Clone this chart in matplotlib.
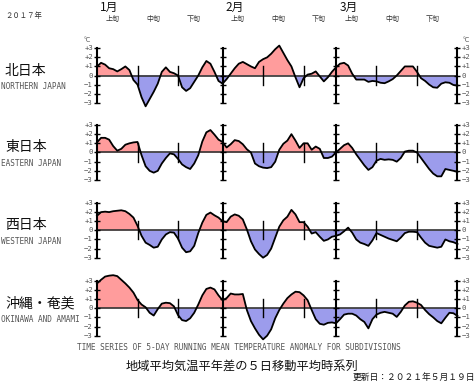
import numpy as np
import matplotlib
matplotlib.use("Agg")
import matplotlib.pyplot as plt

plt.rcParams['font.family'] = ['Noto Sans CJK JP', 'DejaVu Sans']

# 5-day running mean temperature anomaly, 2017-01-01 .. 2017-03-31 (degC)
north = [1.0, 1.4, 1.2, 0.8, 0.7, 0.45, 0.7, 1.0, 0.6, -0.5,
         -1.0, -2.4, -3.4, -2.6, -1.8, -0.9, 0.4, 0.9, 0.4, 0.25,
         0.0, -1.3, -1.7, -1.4, -0.7, 0.0, 0.9, 1.6, 1.3, 0.4,
         -0.6, -0.9, -0.4, 0.2, 0.8, 1.3, 1.5, 1.25, 1.0, 0.8,
         1.5, 1.8, 2.0, 2.4, 2.9, 3.3, 2.5, 1.7, 1.0, -0.2,
         -1.3, -0.3, 0.1, 0.2, 0.45, -0.1, -0.65, -0.2, 0.4, 0.9,
         1.3, 1.4, 1.1, 0.2, -0.45, -0.45, -0.45, -0.7, -0.6, -0.65,
         -0.8, -0.85, -0.65, -0.4, 0.0, 0.5, 1.0, 1.0, 1.0, 0.4,
         -0.3, -0.6, -1.0, -1.3, -1.35, -0.9, -0.75, -0.8, -1.05, -1.1]
east = [1.1, 1.6, 1.6, 1.4, 0.7, 0.2, 0.4, 0.85, 1.0, 1.1,
        1.15, -0.3, -1.5, -2.0, -2.2, -2.0, -1.2, -0.6, -0.1, -0.2,
        -0.7, -1.3, -1.6, -1.8, -1.2, -0.3, 1.2, 2.2, 2.45, 1.95,
        1.4, 1.15, 0.55, 0.9, 1.35, 1.25, 0.9, 0.35, 0.0, -1.2,
        -1.5, -1.65, -1.7, -1.6, -1.0, 0.3, 0.95, 1.3, 2.0, 1.3,
        0.5, 1.0, 1.0, 0.3, 0.65, 0.4, -0.6, -0.6, -0.45, 0.0,
        0.4, 0.8, 1.0, 0.5, -0.2, -0.8, -1.4, -1.9, -1.6, -0.9,
        -0.7, -0.8, -0.75, -0.8, -1.0, -0.6, 0.1, 0.2, 0.2, 0.0,
        -0.6, -1.2, -1.8, -2.3, -2.6, -2.6, -1.8, -1.9, -2.0, -2.1]
west = [1.6, 2.0, 2.05, 2.0, 2.1, 2.15, 2.2, 2.1, 1.8, 1.4,
        0.5, -0.6, -1.35, -1.6, -1.9, -1.8, -1.0, -0.45, -0.2, -0.25,
        -0.9, -1.9, -2.4, -2.3, -1.7, -0.3, 0.85, 1.7, 1.95, 1.65,
        1.4, 1.0, 0.9, 1.5, 1.75, 1.6, 1.2, 0.1, -1.2, -2.1,
        -2.6, -3.0, -2.7, -2.0, -0.8, 0.4, 1.1, 1.5, 2.25, 1.75,
        0.9, 0.9, 0.4, -0.35, -0.2, -0.7, -1.15, -1.0, -0.7, -0.6,
        -0.45, -0.1, 0.3, -0.25, -1.0, -1.35, -1.5, -1.7, -1.1, -0.3,
        -0.5, -0.7, -0.9, -1.05, -1.2, -0.8, -0.3, -0.15, -0.15, -0.2,
        -0.8, -1.35, -1.7, -1.8, -1.9, -1.8, -1.0, -1.2, -1.3, -1.5]
okinawa = [2.7, 3.1, 3.45, 3.55, 3.6, 3.5, 3.1, 2.7, 2.25, 1.7,
           0.9, 0.4, 0.1, -0.5, -0.8, -0.1, 0.5, 0.6, 0.55, 0.2,
           -0.75, -1.3, -1.4, -1.1, -0.5, 0.4, 1.4, 2.1, 2.25, 2.05,
           1.4, 0.87, 1.1, 1.6, 1.5, 1.5, 1.55, -0.2, -1.4, -2.2,
           -2.9, -3.4, -3.0, -2.3, -1.1, -0.2, 0.5, 1.1, 1.5, 1.8,
           1.75, 1.4, 0.87, -0.2, -1.2, -1.7, -1.8, -1.6, -1.55, -1.65,
           -1.2, -0.7, -0.6, -0.6, -0.8, -1.2, -1.5, -2.2, -1.2, -0.7,
           -0.5, -0.4, -0.5, -0.6, -0.95, -0.4, 0.3, 0.7, 0.75, 0.6,
           0.35, -0.2, -0.65, -1.0, -1.4, -1.65, -1.05, -0.5, -0.55, -0.85]

regions_jp = ['北日本', '東日本', '西日本', '沖縄・奄美']
regions_en = ['NORTHERN JAPAN', 'EASTERN JAPAN', 'WESTERN JAPAN', 'OKINAWA AND AMAMI']
series = [north, east, west, okinawa]
months = ['1月', '2月', '3月']
month_start = [0, 31, 59]
dekads = ['上旬', '中旬', '下旬']
dekad_ticks = [10, 20, 41, 51, 69, 79]
yticks = [3, 2, 1, 0, -1, -2, -3]
ytick_labels = ['+3', '+2', '+1', '0', '\u22121', '\u22122', '\u22123']

W, H = 476, 382
RED = '#ff9c9c'
BLUE = '#9c9cec'
GREY = '#555555'
MONO = 'DejaVu Sans Mono'


def fx(x):
    return x / W


def fy(y):
    return 1 - y / H


fig = plt.figure(figsize=(W / 100, H / 100), dpi=100)
fig.patch.set_facecolor('white')

# pixel rows of the +3 / -3 limits of each panel
panel_top = [48.3, 125.0, 203.0, 280.7]
panel_bot = [102.7, 180.0, 257.7, 335.7]
x_left, x_right = 97.0, 457.5

days = np.arange(len(north))

for k in range(4):
    ax = fig.add_axes([fx(x_left), fy(panel_bot[k]),
                       (x_right - x_left) / W, (panel_bot[k] - panel_top[k]) / H])
    ax.set_xlim(0, 89)
    ax.set_ylim(-3, 3)
    ax.axis('off')
    v = np.array(series[k])

    ax.fill_between(days, v, 0, where=v >= 0, interpolate=True,
                    color=RED, lw=0, clip_on=False)
    ax.fill_between(days, v, 0, where=v <= 0, interpolate=True,
                    color=BLUE, lw=0, clip_on=False)
    ax.axhline(0, color='#333333', lw=1.2, zorder=3)
    ax.plot(days, v, color='black', lw=1.3, clip_on=False, zorder=4)

    # month axes with integer ticks
    for xa in [0, 31, 59, 89]:
        ax.plot([xa, xa], [-3, 3], color='black', lw=1.5, zorder=5, clip_on=False)
        ax.plot([xa] * 7, yticks, ls='none', marker='_', ms=4, mew=1.0,
                color='black', zorder=5, clip_on=False)
    # dekad marks
    for xd in dekad_ticks:
        ax.plot([xd, xd], [-1, 1], color='black', lw=1.0, zorder=5)

    for yt, lab in zip(yticks, ytick_labels):
        ax.text(-1.0, yt, lab, ha='right', va='center', fontsize=5.2,
                color=GREY, family=MONO)
        ax.text(90.0, yt, lab, ha='left', va='center', fontsize=5.2,
                color=GREY, family=MONO)
    if k == 0:
        ax.text(-1.6, 3.9, '°C', ha='right', va='center', fontsize=5.2, color=GREY)
        ax.text(90.3, 3.9, '°C', ha='left', va='center', fontsize=5.2, color=GREY)

    zero_y = (panel_top[k] + panel_bot[k]) / 2
    fig.text(fx(5), fy(zero_y - 5), regions_jp[k], ha='left', va='center',
             fontsize=10, color='#111111')
    fig.text(fx(1), fy(zero_y + 11), regions_en[k], ha='left', va='center',
             fontsize=5.6, color=GREY, family=MONO)

# month and dekad labels
px_day = (x_right - x_left) / 89
for m, s in zip(months, month_start):
    fig.text(fx(x_left + (s + 0.8) * px_day), fy(7), m, ha='left', va='center',
             fontsize=8.5, color='#111111')
    for j, d in enumerate(dekads):
        fig.text(fx(x_left + (s + 3.8 + 10 * j) * px_day), fy(19), d,
                 ha='center', va='center', fontsize=5, color='#333333')

fig.text(fx(5), fy(16), '２０１７年', ha='left', va='center', fontsize=5.3,
         color='#333333')

fig.text(fx(239), fy(348), 'TIME SERIES OF 5-DAY RUNNING MEAN TEMPERATURE ANOMALY FOR SUBDIVISIONS',
         ha='center', va='center', fontsize=5.6, color=GREY, family=MONO)
fig.text(fx(242), fy(366), '地域平均気温平年差の５日移動平均時系列', ha='center',
         va='center', fontsize=8.8, color='#111111')
fig.text(fx(475), fy(377), '更新日：２０２１年５月１９日', ha='right', va='center',
         fontsize=6.3, color='#111111')

fig.savefig('out.png', dpi=100)
